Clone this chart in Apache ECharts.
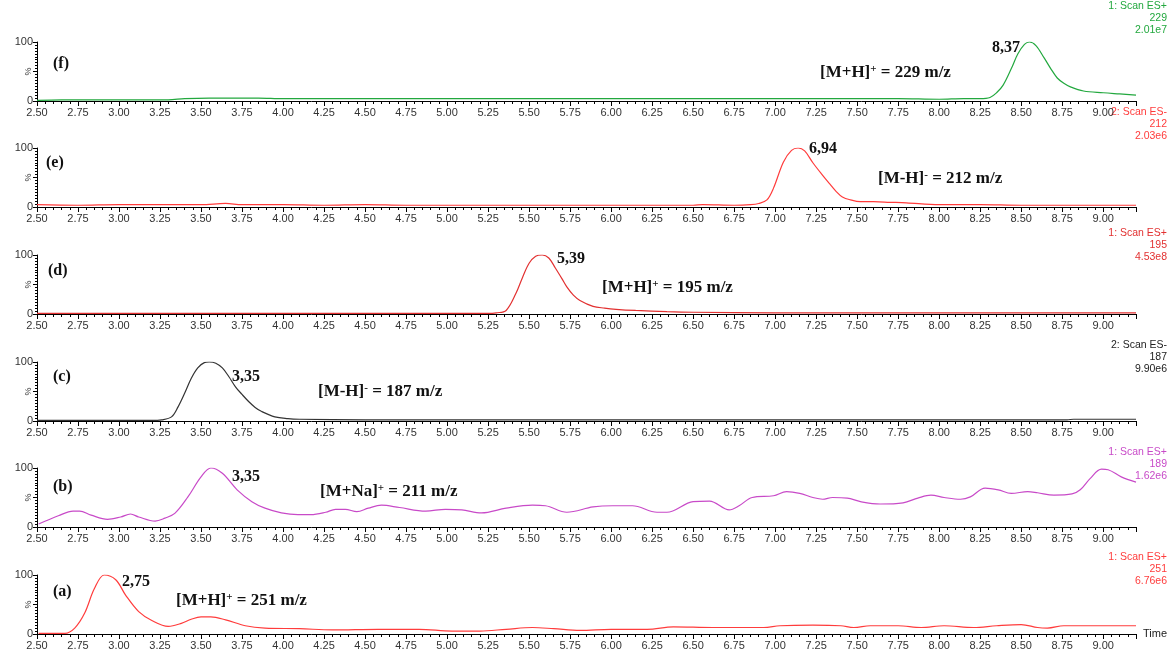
<!DOCTYPE html>
<html>
<head>
<meta charset="utf-8">
<script src="https://cdn.jsdelivr.net/npm/echarts@6/dist/echarts.min.js"></script>
<style>
  html, body { margin: 0; padding: 0; background: #fff; }
  #chart { width: 1171px; height: 651px; }
</style>
</head>
<body>
<div id="chart"></div>
<script>
// Retention time (min) and relative intensity (%) for each extracted-ion chromatogram, top to bottom
const timesF = [2.50, 2.65, 2.80, 3.00, 3.20, 3.30, 3.40, 3.55, 3.70, 3.85, 4.00, 4.25, 4.50, 4.75, 5.00, 5.25, 5.50, 5.75, 6.00, 6.25, 6.50, 6.75, 7.00, 7.25, 7.50, 7.75, 8.00, 8.15, 8.25, 8.31, 8.35, 8.39, 8.44, 8.48, 8.52, 8.55, 8.59, 8.64, 8.68, 8.72, 8.76, 8.80, 8.88, 9.00, 9.10, 9.20];
const valuesF = [1, 2, 2, 2, 2, 2, 4, 5, 5, 5, 4, 4, 4, 4, 4, 4, 4, 4, 4, 4, 4, 4, 4, 4, 4, 4, 3, 4, 4, 6, 14, 27, 55, 80, 96, 100, 94, 73, 55, 39, 30, 24, 17, 14, 12, 10];

const timesE = [2.50, 2.75, 3.00, 3.25, 3.50, 3.65, 3.75, 4.00, 4.25, 4.50, 4.75, 5.00, 5.25, 5.50, 5.75, 6.00, 6.25, 6.50, 6.56, 6.75, 6.85, 6.90, 6.95, 6.99, 7.05, 7.10, 7.14, 7.18, 7.23, 7.28, 7.33, 7.37, 7.41, 7.46, 7.52, 7.60, 7.70, 7.80, 8.00, 8.25, 8.50, 8.75, 9.00, 9.20];
const valuesE = [4, 3, 4, 4, 4, 6, 4, 4, 3, 4, 3, 3, 3, 3, 3, 3, 3, 3, 4, 3, 4, 6, 12, 32, 76, 96, 100, 95, 75, 57, 40, 27, 17, 12, 9, 9, 8, 7, 4, 4, 3, 3, 3, 3];

const timesD = [2.50, 3.00, 3.50, 4.00, 4.50, 5.00, 5.25, 5.30, 5.36, 5.42, 5.46, 5.50, 5.54, 5.58, 5.62, 5.66, 5.70, 5.73, 5.77, 5.81, 5.89, 5.96, 6.03, 6.15, 6.34, 6.50, 7.00, 7.50, 8.00, 8.50, 9.00, 9.20];
const valuesD = [1, 1, 1, 1, 1, 1, 1, 2, 6, 35, 62, 86, 98, 100, 95, 78, 60, 46, 32, 23, 13, 10, 8, 6, 4, 3, 2, 2, 2, 2, 2, 2];

const timesC = [2.50, 2.75, 3.00, 3.20, 3.26, 3.32, 3.36, 3.40, 3.44, 3.48, 3.52, 3.55, 3.59, 3.63, 3.67, 3.71, 3.75, 3.79, 3.83, 3.87, 3.95, 4.03, 4.10, 4.50, 5.00, 6.00, 7.00, 8.00, 8.78, 8.82, 9.20];
const valuesC = [1, 1, 1, 1, 2, 7, 24, 47, 72, 90, 99, 100, 98, 90, 75, 58, 45, 33, 23, 16, 7, 4, 3, 2, 2, 2, 2, 2, 2, 3, 3];

const timesB = [2.51, 2.63, 2.72, 2.76, 2.83, 2.93, 3.01, 3.07, 3.12, 3.22, 3.28, 3.34, 3.42, 3.50, 3.56, 3.63, 3.72, 3.81, 3.89, 3.99, 4.09, 4.17, 4.26, 4.32, 4.38, 4.45, 4.52, 4.60, 4.71, 4.87, 4.99, 5.09, 5.21, 5.36, 5.52, 5.60, 5.73, 5.89, 6.01, 6.13, 6.28, 6.34, 6.50, 6.60, 6.72, 6.78, 6.86, 6.99, 7.07, 7.15, 7.23, 7.29, 7.35, 7.44, 7.52, 7.64, 7.78, 7.87, 7.95, 8.03, 8.13, 8.19, 8.28, 8.36, 8.44, 8.54, 8.60, 8.70, 8.81, 8.86, 8.92, 8.99, 9.03, 9.11, 9.20];
const valuesB = [5, 19, 27, 27, 20, 13, 17, 22, 17, 10, 15, 23, 51, 85, 100, 91, 63, 43, 32, 24, 21, 21, 25, 30, 30, 26, 32, 37, 33, 27, 30, 29, 24, 32, 37, 36, 25, 34, 36, 36, 25, 25, 43, 44, 29, 36, 50, 53, 60, 57, 50, 47, 50, 49, 43, 39, 41, 49, 54, 50, 47, 51, 66, 63, 57, 60, 58, 54, 56, 63, 82, 98, 97, 85, 76];

const timesA = [2.51, 2.60, 2.67, 2.73, 2.79, 2.85, 2.91, 2.98, 3.04, 3.12, 3.20, 3.30, 3.38, 3.44, 3.50, 3.56, 3.65, 3.77, 3.89, 4.10, 4.30, 4.58, 4.83, 5.03, 5.20, 5.36, 5.52, 5.65, 5.81, 6.00, 6.22, 6.38, 6.62, 6.93, 7.03, 7.23, 7.40, 7.48, 7.58, 7.75, 7.89, 8.03, 8.21, 8.35, 8.50, 8.60, 8.66, 8.76, 9.00, 9.20];
const valuesA = [1, 1, 1, 10, 35, 77, 100, 92, 66, 38, 23, 13, 18, 25, 29, 29, 24, 14, 10, 9, 7, 8, 8, 5, 5, 8, 11, 9, 6, 8, 8, 12, 11, 11, 14, 15, 14, 11, 14, 14, 11, 14, 11, 14, 16, 11, 10, 14, 14, 14];

// Panel captions, peak retention times and ion descriptions
const panelTags = ['(f)', '(e)', '(d)', '(c)', '(b)', '(a)'];
const peakTags = ['8,37', '6,94', '5,39', '3,35', '3,35', '2,75'];
const ionAdducts = ['[M+H]', '[M-H]', '[M+H]', '[M-H]', '[M+Na]', '[M+H]'];
const ionCharges = ['+', '-', '+', '-', '+', '+'];
const ionMz = ['229', '212', '195', '187', '211', '251'];
// Acquisition header: function/scan mode, monitored mass, base-peak intensity
const scanModes = ['1: Scan ES+', '2: Scan ES-', '1: Scan ES+', '2: Scan ES-', '1: Scan ES+', '1: Scan ES+'];
const scanMasses = ['229', '212', '195', '187', '189', '251'];
const scanIntensities = ['2.01e7', '2.03e6', '4.53e8', '9.90e6', '1.62e6', '6.76e6'];

// Time axis range and tick step
const timeMin = 2.50, timeMax = 9.20, timeStep = 0.25;

const traces = [
  [timesF, valuesF], [timesE, valuesE], [timesD, valuesD],
  [timesC, valuesC], [timesB, valuesB], [timesA, valuesA]
];

// ---- layout & styling ----
const lineColors = ['#22a83e', '#ff3b3b', '#e23030', '#333333', '#c84ac8', '#ff3c3c'];
const headerColors = ['#22a83e', '#ff3b3b', '#e23030', '#222222', '#c84ac8', '#ff3c3c'];
const gridTops = [42, 148, 255, 362, 468, 575];
const gridHeight = 59;
const gridLeft = 37, gridRight = 35;
// text placements relative to each panel top: [x, dy]
const tagPos = [[53, 22], [46, 15], [48, 16], [53, 15], [53, 19], [53, 17]];
const peakPos = [[992, 6], [809, 1], [557, 4], [232, 15], [232, 9], [122, 7]];
const ionPos = [[820, 31], [878, 31], [602, 33], [318, 30], [320, 24], [176, 26]];
const headerDy = [-36, -36, -22, -17, -16, -18];

const serif = '"Liberation Serif", "DejaVu Serif", serif';
const sans = '"Liberation Sans", Arial, sans-serif';

const grids = [], xAxes = [], yAxes = [], series = [], graphics = [];

traces.forEach(([ts, vs], i) => {
  const top = gridTops[i];
  grids.push({ left: gridLeft, right: gridRight, top: top, height: gridHeight, containLabel: false, outerBoundsMode: 'none' });
  const isLast = i === traces.length - 1;
  xAxes.push({
    type: 'value', gridIndex: i, min: timeMin, max: timeMax, interval: timeStep,
    name: isLast ? 'Time' : '', nameLocation: 'end', nameGap: 7,
    nameTextStyle: { color: '#222', fontSize: 11, fontFamily: sans, verticalAlign: 'middle' },
    axisLine: { show: true, onZero: false, lineStyle: { color: '#000', width: 1 } },
    axisTick: { show: true, length: 5, lineStyle: { color: '#000' } },
    minorTick: { show: true, splitNumber: 5, length: 3, lineStyle: { color: '#000' } },
    splitLine: { show: false }, minorSplitLine: { show: false },
    axisLabel: {
      margin: 6, color: '#333', fontSize: 11, fontFamily: sans, showMaxLabel: false,
      formatter: v => (Math.abs(v / timeStep - Math.round(v / timeStep)) < 1e-6 ? v.toFixed(2) : '')
    }
  });
  yAxes.push({
    type: 'value', gridIndex: i, min: 0, max: 100, interval: 50,
    axisLine: { show: true, lineStyle: { color: '#000', width: 1 } },
    axisTick: { show: true, length: 4, lineStyle: { color: '#000' } },
    minorTick: { show: true, splitNumber: 10, length: 2, lineStyle: { color: '#000' } },
    splitLine: { show: false }, minorSplitLine: { show: false },
    axisLabel: {
      margin: 4, color: '#333', fontSize: 11, fontFamily: sans,
      formatter: v => (v === 0 || v === 100 ? String(v) : '')
    }
  });
  series.push({
    type: 'line', xAxisIndex: i, yAxisIndex: i,
    data: ts.map((t, k) => [t, vs[k]]),
    smooth: 0.35, symbol: 'none', clip: true,
    lineStyle: { color: lineColors[i], width: 1.2 },
    animation: false
  });

  // rotated percent sign on the intensity axis
  graphics.push({
    type: 'text', x: 29, y: top + gridHeight / 2, rotation: Math.PI / 2,
    style: { text: '%', font: '9px ' + sans, fill: '#333', align: 'center', verticalAlign: 'middle' }
  });
  // panel caption
  graphics.push({
    type: 'text', x: tagPos[i][0], y: top + tagPos[i][1],
    style: { text: panelTags[i], font: 'bold 16px ' + serif, fill: '#111', align: 'left', verticalAlign: 'middle' }
  });
  // peak retention time
  graphics.push({
    type: 'text', x: peakPos[i][0], y: top + peakPos[i][1],
    style: { text: peakTags[i], font: 'bold 16px ' + serif, fill: '#111', align: 'left', verticalAlign: 'middle' }
  });
  // ion label with superscript charge
  graphics.push({
    type: 'text', x: ionPos[i][0], y: top + ionPos[i][1],
    style: {
      text: '{n|' + ionAdducts[i] + '}{s|' + ionCharges[i] + '}{n| = ' + ionMz[i] + ' m/z}',
      align: 'left', verticalAlign: 'middle', fill: '#111',
      rich: {
        n: { fontFamily: serif, fontWeight: 'bold', fontSize: 17, lineHeight: 18, fill: '#111' },
        s: { fontFamily: serif, fontWeight: 'bold', fontSize: 11, lineHeight: 11, verticalAlign: 'top', fill: '#111' }
      }
    }
  });
  // acquisition header, right aligned
  [scanModes[i], scanMasses[i], scanIntensities[i]].forEach((txt, k) => {
    graphics.push({
      type: 'text', x: 1167, y: top + headerDy[i] + k * 12.3,
      style: { text: txt, font: '10.5px ' + sans, fill: headerColors[i], align: 'right', verticalAlign: 'middle' }
    });
  });
});

const chart = echarts.init(document.getElementById('chart'), null, { renderer: 'canvas' });
chart.setOption({
  animation: false,
  backgroundColor: '#fff',
  grid: grids, xAxis: xAxes, yAxis: yAxes, series: series,
  graphic: graphics
});
</script>
</body>
</html>
